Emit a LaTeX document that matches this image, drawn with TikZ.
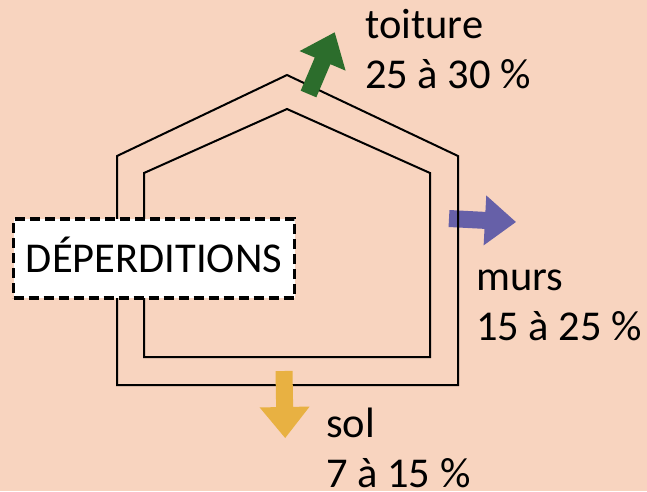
\documentclass[tikz,border=0pt]{standalone}
\usepackage{fontspec}
\setmainfont{Carlito}
\definecolor{bgpeach}{HTML}{F8D4BF}
\definecolor{roofgreen}{HTML}{2C6D2C}
\definecolor{wallpurple}{HTML}{6660A8}
\definecolor{soilyellow}{HTML}{E8B142}
\newcommand\fatarrow[3]{\fill[#1, shift={#2}, rotate=#3] (0,-8.5) -- (36,-8.5) -- (36,-25) -- (67,0) -- (36,25) -- (36,8.5) -- (0,8.5) -- cycle;}
\begin{document}
\begin{tikzpicture}[x=1pt,y=-1pt,
  house/.style={line width=2pt, line join=miter},
  lbl/.style={anchor=base west, inner sep=0pt, font=\fontsize{42.5}{51}\selectfont},
  dbox/.style={draw=black, fill=white, line width=3.5pt, dash pattern=on 10pt off 5pt,
    minimum width=281pt, minimum height=79pt, inner sep=0pt, text height=27pt, text depth=0pt,
    font=\fontsize{42.5}{51}\selectfont}]
\fill[bgpeach] (0,0) rectangle (647,491);
\useasboundingbox (0,0) rectangle (647,491);
\fatarrow{wallpurple}{(449,218.5)}{-3}
\draw[house] (117,385) -- (117,156) -- (287,75) -- (458,156) -- (458,385) -- cycle;
\draw[house] (144,357) -- (144,173) -- (287,109) -- (430,173) -- (430,357) -- cycle;
\fatarrow{roofgreen}{(308.5,94)}{67}
\fatarrow{soilyellow}{(284,371)}{-89}
\node[dbox] (box) at (154,258.5) {DÉPERDITIONS};
\node[lbl] (toit) at (365,38) {toiture};
\node[lbl] (toitp) at (365,88) {25 à 30 \%};
\node[lbl] (murs) at (476,290) {murs};
\node[lbl] (mursp) at (476,340) {15 à 25 \%};
\node[lbl] (sol) at (326,437) {sol};
\node[lbl] (solp) at (326,487) {7 à 15 \%};
\end{tikzpicture}
\end{document}
